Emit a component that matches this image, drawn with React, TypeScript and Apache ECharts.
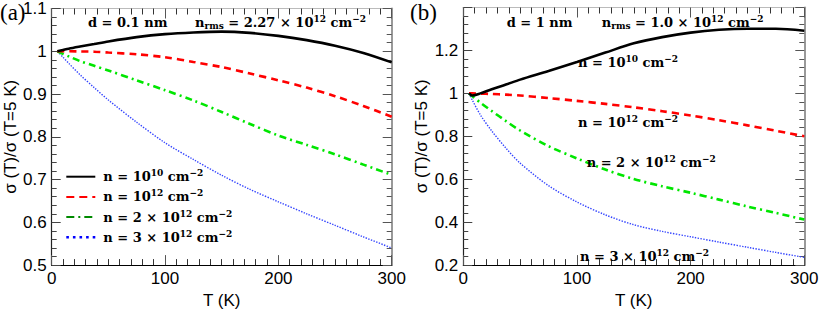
import React, { useEffect, useRef } from 'react';
import * as echarts from 'echarts';

// ---------- data ----------
const tempsA = [5, 10, 15, 25, 37.5, 50, 75, 100, 125, 150, 175, 200, 225, 250, 275, 300];
const aN1e10 = [1.0, 1.003, 1.006, 1.011, 1.017, 1.023, 1.033, 1.04, 1.044, 1.046, 1.043, 1.036, 1.026, 1.013, 0.996, 0.974];
const aN1e12 = [1.0, 1.0, 1.0, 0.9995, 0.999, 0.997, 0.993, 0.986, 0.975, 0.963, 0.948, 0.932, 0.915, 0.895, 0.872, 0.847];
const aN2e12 = [1.0, 0.994, 0.988, 0.977, 0.966, 0.955, 0.932, 0.909, 0.885, 0.858, 0.83, 0.803, 0.781, 0.759, 0.735, 0.711];
const aN3e12 = [1.0, 0.986, 0.972, 0.945, 0.915, 0.886, 0.834, 0.786, 0.747, 0.71, 0.677, 0.648, 0.62, 0.593, 0.566, 0.54];

const tempsB = [5, 8, 15, 25, 37.5, 50, 75, 100, 125, 150, 175, 200, 225, 250, 275, 300];
const bN1e10 = [1.0, 0.99, 1.0, 1.019, 1.041, 1.064, 1.104, 1.146, 1.19, 1.233, 1.262, 1.283, 1.296, 1.301, 1.301, 1.292];
const bN1e12 = [1.0, 1.0, 0.999, 0.997, 0.994, 0.99, 0.978, 0.965, 0.951, 0.935, 0.917, 0.897, 0.875, 0.851, 0.826, 0.8];
const bN2e12 = [1.0, 0.987, 0.957, 0.918, 0.871, 0.827, 0.754, 0.697, 0.645, 0.601, 0.567, 0.537, 0.505, 0.473, 0.443, 0.412];
const bN3e12 = [1.0, 0.968, 0.9, 0.825, 0.745, 0.675, 0.57, 0.494, 0.434, 0.388, 0.357, 0.332, 0.307, 0.283, 0.259, 0.236];

const xTicks = { min: 0, max: 300, interval: 100 };
const yTicksA = { min: 0.5, max: 1.1, interval: 0.1 };
const yTicksB = { min: 0.2, max: 1.4, interval: 0.2 };

const seriesNames = ['n1e10', 'n1e12', 'n2e12', 'n3e12'];
const labelTexts: Record<string, string> = {
  n1e10: '{m|n = 10}{sup|10}{m| cm}{sup|−2}',
  n1e12: '{m|n = 10}{sup|12}{m| cm}{sup|−2}',
  n2e12: '{m|n = 2 × 10}{sup|12}{m| cm}{sup|−2}',
  n3e12: '{m|n = 3 × 10}{sup|12}{m| cm}{sup|−2}',
};
const headerA = ['{m|d = 0.1 nm}', '{m|n}{sub|rms}{m| = 2.27 × 10}{sup|12}{m| cm}{sup|−2}'];
const headerB = ['{m|d = 1 nm}', '{m|n}{sub|rms}{m| = 1.0 × 10}{sup|12}{m| cm}{sup|−2}'];

// ---------- styles ----------
const SERIF = 'DejaVu Serif';
const SANS = 'Liberation Sans';
const rich = {
  m: { fontFamily: SERIF, fontWeight: 'bold', fontSize: 13, lineHeight: 16, color: '#000', fill: '#000' },
  sup: { fontFamily: SERIF, fontWeight: 'bold', fontSize: 9, lineHeight: 10, verticalAlign: 'top', color: '#000', fill: '#000' },
  sub: { fontFamily: SERIF, fontWeight: 'bold', fontSize: 9, lineHeight: 10, verticalAlign: 'bottom', color: '#000', fill: '#000' },
};

const lineStyles = [
  { color: '#000000', width: 2.6, type: 'solid' },
  { color: '#ff0000', width: 2.6, type: [7, 5] },
  { color: '#00e600', width: 2.6, type: [7, 4, 2, 4] },
  { color: '#3344ff', width: 1.4, type: [1.4, 1.4] },
];

function pairs(t: number[], v: number[]) {
  return t.map((x, i) => [x, v[i]]);
}

function xAxes(gridIndex: number) {
  const common = {
    type: 'value',
    gridIndex,
    ...xTicks,
    splitLine: { show: false },
    minorSplitLine: { show: false },
  };
  return [
    {
      ...common,
      position: 'bottom',
      name: 'T (K)',
      nameLocation: 'middle',
      nameGap: 24,
      nameTextStyle: { fontFamily: SANS, fontSize: 17, color: '#000' },
      axisLine: { show: true, onZero: false, lineStyle: { color: '#000', width: 1.2 } },
      axisTick: { show: true, inside: true, length: 10, lineStyle: { color: '#555', width: 1 } },
      minorTick: { show: true, splitNumber: 10, length: 6, lineStyle: { color: '#333', width: 1 } },
      axisLabel: { fontFamily: SANS, fontSize: 17, color: '#000', margin: 5 },
    },
    {
      ...common,
      position: 'top',
      axisLine: { show: true, onZero: false, lineStyle: { color: '#bbb', width: 1 } },
      axisTick: { show: true, inside: true, length: 10, lineStyle: { color: '#555', width: 1 } },
      minorTick: { show: true, splitNumber: 10, length: 6, lineStyle: { color: '#333', width: 1 } },
      axisLabel: { show: false },
    },
  ];
}

function yAxes(gridIndex: number, ticks: any, nameGap: number, showMax: boolean) {
  const common = {
    type: 'value',
    gridIndex,
    ...ticks,
    splitLine: { show: false },
    minorSplitLine: { show: false },
  };
  return [
    {
      ...common,
      position: 'left',
      name: 'σ (T)/σ (T=5 K)',
      nameLocation: 'middle',
      nameGap,
      nameTextStyle: { fontFamily: SANS, fontSize: 17, color: '#000' },
      axisLine: { show: true, onZero: false, lineStyle: { color: '#222', width: 1.2 } },
      axisTick: { show: true, inside: true, length: 9, lineStyle: { color: '#444', width: 1 } },
      minorTick: { show: true, splitNumber: 5, length: 5, lineStyle: { color: '#444', width: 1 } },
      axisLabel: { fontFamily: SANS, fontSize: 17, color: '#000', margin: 5, showMaxLabel: showMax },
    },
    {
      ...common,
      position: 'right',
      axisLine: { show: true, onZero: false, lineStyle: { color: '#999', width: 2 } },
      axisTick: { show: true, inside: true, length: 9, lineStyle: { color: '#555', width: 1 } },
      minorTick: { show: true, splitNumber: 5, length: 5, lineStyle: { color: '#555', width: 1 } },
      axisLabel: { show: false },
    },
  ];
}

function makeSeries(prefix: string, temps: number[], arrs: number[][], xIdx: number, yIdx: number) {
  return arrs.map((vals, i) => ({
    type: 'line',
    name: prefix + seriesNames[i],
    xAxisIndex: xIdx,
    yAxisIndex: yIdx,
    data: pairs(temps, vals),
    symbol: 'none',
    smooth: 0.3,
    lineStyle: { ...lineStyles[i] },
    itemStyle: { color: lineStyles[i].color },
    z: 10 - i,
  }));
}

function textEl(x: number, y: number, text: string) {
  return {
    type: 'text',
    x,
    y,
    z: 100,
    style: { text, rich, align: 'left', verticalAlign: 'middle', fill: '#000' },
  };
}

export default function App() {
  const ref = useRef<HTMLDivElement>(null);
  useEffect(() => {
    if (!ref.current) return;
    const chart = echarts.init(ref.current, undefined, { renderer: 'svg' });
    const option: any = {
      animation: false,
      backgroundColor: '#fff',
      grid: [
        { left: 51.7, top: 7.3, width: 340, height: 260.4 },
        { left: 463.3, top: 7.5, width: 341, height: 260.4 },
      ],
      xAxis: [...xAxes(0), ...xAxes(1)],
      yAxis: [...yAxes(0, yTicksA, 31, true), ...yAxes(1, yTicksB, 33, false)],
      legend: {
        orient: 'vertical',
        left: 65,
        top: 168.7,
        padding: 0,
        itemWidth: 29,
        itemHeight: 14,
        itemGap: 5.7,
        itemStyle: { color: 'rgba(0,0,0,0)', borderWidth: 0, opacity: 0 },
        data: [
          { name: 'a_n1e10' },
          { name: 'a_n1e12', lineStyle: { type: [8, 5] } },
          { name: 'a_n2e12', lineStyle: { color: '#008a00', type: [8, 4, 2, 4] } },
          { name: 'a_n3e12', lineStyle: { color: '#0000ff', width: 2.6, type: [2.6, 4] } },
        ],
        formatter: (name: string) => labelTexts[name.slice(2)],
        textStyle: { rich, padding: [0, 0, 0, 3] },
      },
      series: [
        ...makeSeries('a_', tempsA, [aN1e10, aN1e12, aN2e12, aN3e12], 0, 0),
        ...makeSeries('b_', tempsB, [bN1e10, bN1e12, bN2e12, bN3e12], 2, 2),
      ],
      graphic: [
        { type: 'text', x: 0, y: 12, z: 100, style: { text: '(a)', font: '23px "Liberation Serif"', fill: '#000', align: 'left', verticalAlign: 'middle' } },
        { type: 'text', x: 410, y: 12, z: 100, style: { text: '(b)', font: '23px "Liberation Serif"', fill: '#000', align: 'left', verticalAlign: 'middle' } },
        textEl(88, 22, headerA[0]),
        textEl(195, 22, headerA[1]),
        textEl(506.7, 22, headerB[0]),
        textEl(601.7, 22, headerB[1]),
        textEl(578, 62, labelTexts.n1e10),
        textEl(578, 122, labelTexts.n1e12),
        textEl(586.7, 162, labelTexts.n2e12),
        textEl(580, 256.5, labelTexts.n3e12),
      ],
    };
    chart.setOption(option);
    return () => chart.dispose();
  }, []);
  return (
    <div
      ref={ref}
      style={{ position: 'fixed', left: 0, top: 0, width: 822, height: 314, background: '#fff' }}
    />
  );
}
